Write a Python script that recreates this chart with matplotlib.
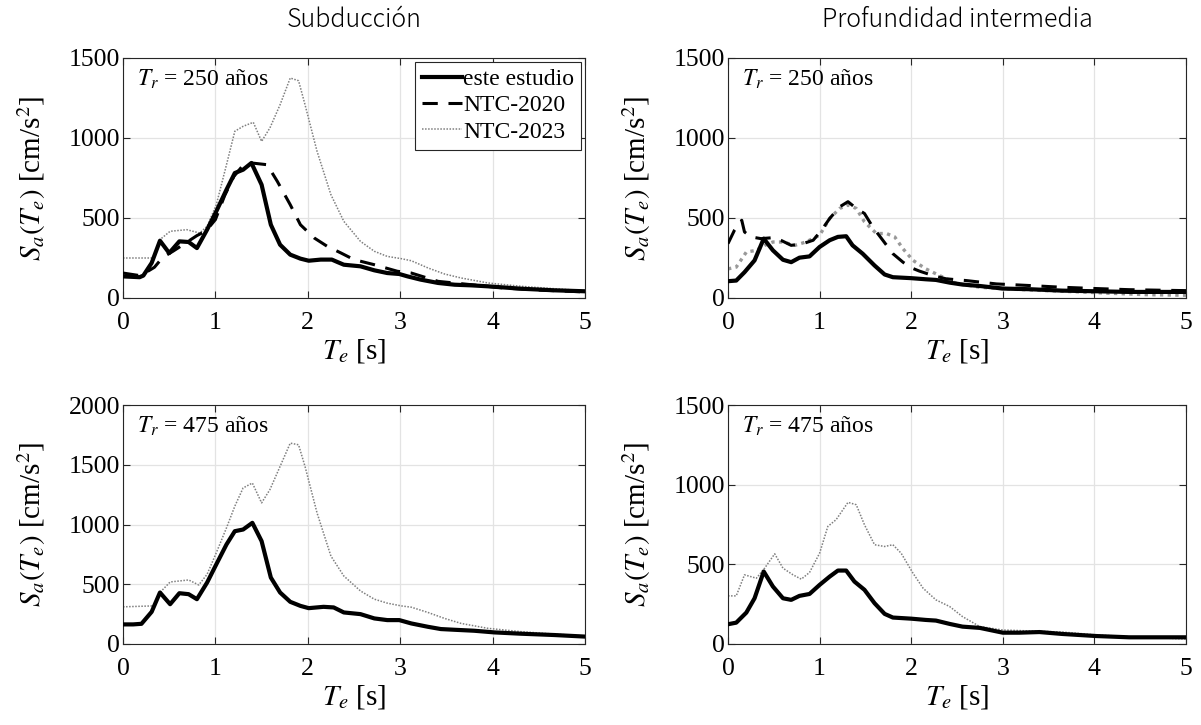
import matplotlib
matplotlib.use("Agg")
import matplotlib.pyplot as plt

plt.rcParams['font.family'] = ['Liberation Serif', 'DejaVu Serif']
plt.rcParams['mathtext.fontset'] = 'stix'

# ---------------- data ----------------
col_titles = ["Subducción", "Profundidad intermedia"]
row_labels = [r"$T_r$ = 250 años", r"$T_r$ = 475 años"]
series_names = ["este estudio", "NTC-2020", "NTC-2023"]

# Subducción, Tr = 250
sub250_est_T = [0, 0.18, 0.22, 0.31, 0.40, 0.50, 0.61, 0.71, 0.80, 0.91, 1.01, 1.12, 1.21, 1.30, 1.39,
                1.50, 1.60, 1.70, 1.81, 1.92, 2.01, 2.14, 2.26, 2.32, 2.39, 2.57, 2.72, 2.86, 2.99, 3.08,
                3.22, 3.41, 3.59, 3.77, 3.95, 4.31, 4.67, 5.0]
sub250_est_S = [135, 130, 140, 219, 358, 281, 354, 350, 312, 427, 542, 677, 781, 802, 844,
                708, 458, 333, 271, 246, 233, 240, 240, 225, 208, 198, 173, 156, 150, 135,
                115, 94, 83, 79, 73, 58, 48, 42]
sub250_2020_T = [0, 0.18, 0.22, 0.34, 0.43, 0.54, 0.65, 0.80, 0.90, 1.00, 1.10, 1.20, 1.30, 1.39, 1.56,
                 1.67, 1.81, 1.92, 2.07, 2.21, 2.36, 2.50, 2.72, 2.97, 3.12, 3.41, 3.77, 4.13, 4.49, 5.0]
sub250_2020_S = [156, 140, 150, 192, 254, 292, 333, 390, 420, 490, 640, 760, 830, 844, 833,
                 729, 583, 458, 375, 323, 281, 240, 208, 167, 156, 104, 83, 62, 50, 38]
sub250_2023_T = [0, 0.33, 0.40, 0.51, 0.69, 0.83, 0.91, 1.01, 1.12, 1.21, 1.30, 1.41, 1.50, 1.59, 1.70,
                 1.81, 1.90, 1.97, 2.10, 2.25, 2.39, 2.57, 2.72, 2.86, 3.01, 3.12, 3.30, 3.48, 3.66, 3.95,
                 4.31, 4.67, 5.0]
sub250_2023_S = [250, 250, 365, 417, 427, 406, 448, 583, 833, 1042, 1073, 1098, 979, 1063, 1208,
                 1375, 1358, 1208, 917, 646, 479, 354, 292, 260, 246, 233, 188, 150, 125, 94,
                 73, 58, 46]

# Profundidad intermedia, Tr = 250
int250_est_T = [0, 0.09, 0.18, 0.29, 0.39, 0.49, 0.60, 0.69, 0.78, 0.89, 1.00, 1.11, 1.20, 1.29, 1.36,
                1.47, 1.60, 1.71, 1.80, 2.00, 2.16, 2.27, 2.42, 2.56, 2.75, 3.00, 3.29, 3.65, 4.02, 4.38, 5.0]
int250_est_S = [105, 109, 161, 235, 371, 298, 239, 224, 252, 260, 319, 361, 382, 386, 329,
                277, 203, 147, 130, 124, 117, 113, 96, 84, 75, 59, 55, 46, 42, 38, 38]
int250_2020_T = [0, 0.07, 0.15, 0.18, 0.25, 0.36, 0.49, 0.58, 0.69, 0.82, 0.93, 1.02, 1.11, 1.22, 1.31,
                 1.40, 1.49, 1.58, 1.69, 1.80, 1.91, 2.00, 2.09, 2.24, 2.38, 2.60, 2.93, 3.29, 3.65, 4.02,
                 4.38, 5.0]
int250_2020_S = [340, 423, 486, 413, 382, 371, 377, 360, 329, 340, 361, 423, 497, 570, 602,
                 560, 528, 444, 361, 277, 224, 189, 168, 140, 120, 109, 88, 78, 67, 59,
                 52, 46]
int250_2023_T = [0, 0.09, 0.20, 0.31, 0.40, 0.49, 0.60, 0.73, 0.85, 1.00, 1.11, 1.22, 1.31, 1.40, 1.49,
                 1.62, 1.73, 1.82, 1.91, 2.02, 2.16, 2.31, 2.49, 2.75, 3.11, 3.47, 3.84, 4.20, 4.56, 5.0]
int250_2023_S = [182, 193, 287, 298, 329, 350, 350, 329, 350, 392, 497, 560, 581, 560, 476,
                 403, 403, 382, 308, 235, 182, 140, 92, 67, 55, 46, 38, 29, 21, 17]

# Subducción, Tr = 475
sub475_est_T = [0, 0.11, 0.20, 0.31, 0.40, 0.51, 0.61, 0.71, 0.80, 0.91, 1.01, 1.12, 1.21, 1.30, 1.40,
                1.50, 1.60, 1.70, 1.81, 1.92, 2.01, 2.17, 2.28, 2.39, 2.57, 2.72, 2.86, 2.99, 3.12, 3.30,
                3.44, 3.59, 3.80, 4.02, 4.31, 4.67, 5.0]
sub475_est_S = [164, 164, 169, 269, 431, 333, 425, 417, 375, 514, 667, 833, 944, 958, 1014,
                861, 556, 431, 353, 319, 300, 311, 306, 264, 250, 214, 200, 200, 172, 144,
                125, 119, 111, 97, 86, 75, 62]
sub475_2023_T = [0, 0.33, 0.40, 0.51, 0.71, 0.82, 0.91, 1.01, 1.12, 1.21, 1.30, 1.40, 1.50, 1.59, 1.70,
                 1.81, 1.90, 1.97, 2.10, 2.25, 2.39, 2.57, 2.72, 2.86, 3.01, 3.12, 3.30, 3.48, 3.66, 3.95,
                 4.31, 4.67, 5.0]
sub475_2023_S = [311, 319, 431, 519, 536, 494, 583, 764, 972, 1153, 1306, 1347, 1181, 1292, 1486,
                 1681, 1667, 1486, 1097, 736, 569, 444, 375, 342, 319, 308, 264, 214, 172, 131,
                 103, 83, 67]

# Profundidad intermedia, Tr = 475
int475_est_T = [0, 0.09, 0.20, 0.29, 0.39, 0.49, 0.60, 0.69, 0.78, 0.89, 1.00, 1.11, 1.20, 1.29, 1.38,
                1.49, 1.60, 1.71, 1.80, 2.00, 2.16, 2.27, 2.42, 2.56, 2.75, 3.00, 3.18, 3.40, 3.65, 4.02,
                4.38, 4.75, 5.0]
int475_est_S = [124, 134, 197, 287, 455, 361, 287, 277, 302, 314, 371, 423, 461, 461, 392,
                340, 256, 189, 166, 159, 151, 147, 126, 109, 101, 71, 71, 75, 63, 50,
                42, 42, 42]
int475_2023_T = [0, 0.09, 0.18, 0.31, 0.40, 0.51, 0.60, 0.71, 0.80, 0.89, 1.00, 1.09, 1.18, 1.31, 1.40,
                 1.49, 1.60, 1.71, 1.80, 1.89, 2.02, 2.13, 2.27, 2.42, 2.56, 2.75, 3.00, 3.29, 3.65, 4.02,
                 4.38, 4.75, 5.0]
int475_2023_S = [302, 302, 434, 413, 476, 566, 476, 434, 407, 449, 570, 738, 780, 889, 874,
                 748, 623, 612, 623, 570, 444, 350, 277, 235, 172, 109, 88, 82, 75, 57,
                 46, 38, 31]

x_ticks = [0, 1, 2, 3, 4, 5]
y_ticks_1500 = [0, 500, 1000, 1500]
y_ticks_2000 = [0, 500, 1000, 1500, 2000]

# ---------------- figure ----------------
fig = plt.figure(figsize=(12.01, 7.25), dpi=100)
W, H = 1201, 725
def ax_at(x0, x1, y0, y1):
    return fig.add_axes([x0 / W, (H - y1) / H, (x1 - x0) / W, (y1 - y0) / H])

axes = [[ax_at(123, 585, 58, 298), ax_at(728, 1186, 58, 298)],
        [ax_at(123, 585, 405, 644), ax_at(728, 1186, 405, 644)]]

est_style = dict(color='black', lw=3.0, solid_joinstyle='round')
n20_style = dict(color='black', lw=2.2, ls=(0, (5, 3.5)))
n23_thin = dict(color='#7f7f7f', lw=1.1, ls=(0, (1, 1)))
n23_thick = dict(color='#999999', lw=2.4, ls=(0, (1, 1.3)))

panel_data = [
    [(sub250_est_T, sub250_est_S, sub250_2020_T, sub250_2020_S, sub250_2023_T, sub250_2023_S, n23_thin),
     (int250_est_T, int250_est_S, int250_2020_T, int250_2020_S, int250_2023_T, int250_2023_S, n23_thick)],
    [(sub475_est_T, sub475_est_S, None, None, sub475_2023_T, sub475_2023_S, n23_thin),
     (int475_est_T, int475_est_S, None, None, int475_2023_T, int475_2023_S, n23_thin)],
]
ylims = [[1500, 1500], [2000, 1500]]
yticks = [[y_ticks_1500, y_ticks_1500], [y_ticks_2000, y_ticks_1500]]

for r in range(2):
    for c in range(2):
        ax = axes[r][c]
        eT, eS, aT, aS, bT, bS, bsty = panel_data[r][c]
        ax.plot(eT, eS, label=series_names[0], **est_style, zorder=3)
        if aT is not None:
            ax.plot(aT, aS, label=series_names[1], **n20_style, zorder=4)
        ax.plot(bT, bS, label=series_names[2], **bsty, zorder=2)
        ax.set_xlim(0, 5)
        ax.set_ylim(0, ylims[r][c])
        ax.set_xticks(x_ticks)
        ax.set_yticks(yticks[r][c])
        ax.grid(True, color='#e3e3e3', lw=0.9)
        ax.set_axisbelow(True)
        ax.tick_params(direction='in', top=True, right=True, labelsize=18.5,
                       length=5, width=0.8, color='#262626')
        ax.tick_params(axis='x', pad=10)
        ax.tick_params(axis='y', pad=2)
        for s in ax.spines.values():
            s.set_color('#262626')
            s.set_linewidth(0.8)
        ax.set_xlabel(r"$T_e$ [s]", fontsize=21, labelpad=2)
        ax.set_ylabel(r"$S_a(T_e)$ [cm/s$^2$]", fontsize=21, labelpad=15)
        ax.text(0.03, 0.96, row_labels[r], transform=ax.transAxes, fontsize=17,
                va='top', ha='left')
        if r == 0 and c == 0:
            leg = ax.legend(loc='upper right', fontsize=17, frameon=True, fancybox=False,
                            edgecolor='#262626', framealpha=1, borderpad=0.3,
                            handlelength=1.7, handletextpad=0.05, labelspacing=0.2,
                            borderaxespad=0.15)
            leg.get_frame().set_linewidth(0.8)
        if r == 0:
            ax.set_title(col_titles[c], fontsize=18, pad=22,
                         family=['Noto Sans CJK JP', 'DejaVu Sans'], fontweight='light')

fig.savefig("out.png", dpi=100)
